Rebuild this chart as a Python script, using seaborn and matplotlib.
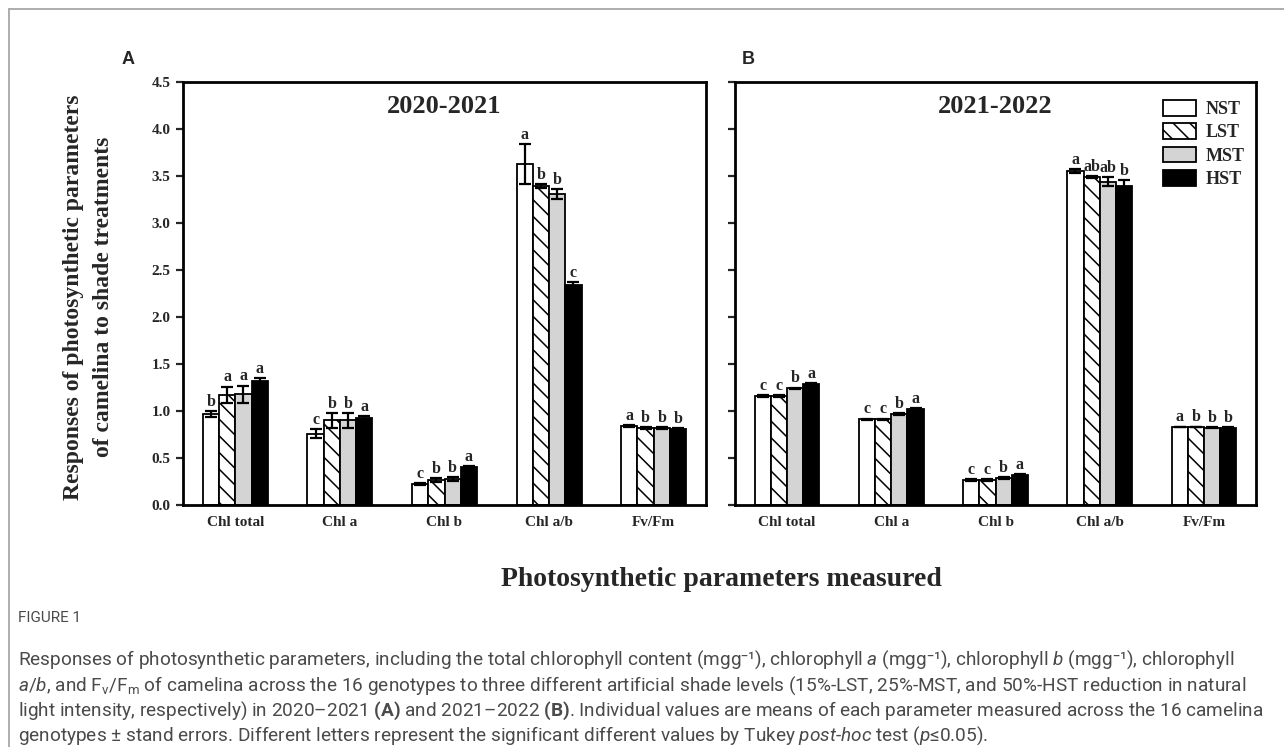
import numpy as np
import pandas as pd
import matplotlib
matplotlib.use("Agg")
import matplotlib.pyplot as plt
import matplotlib.patches as mpatches
from matplotlib.lines import Line2D
import seaborn as sns

# ---------------- data ----------------
params = ["Chl total", "Chl a", "Chl b", "Chl a/b", "Fv/Fm"]
treatments = ["NST", "LST", "MST", "HST"]

# Panel A: 2020-2021
a_nst = [0.97, 0.76, 0.22, 3.63, 0.84]
a_lst = [1.17, 0.90, 0.27, 3.39, 0.82]
a_mst = [1.18, 0.90, 0.28, 3.31, 0.82]
a_hst = [1.32, 0.93, 0.40, 2.34, 0.81]
a_nst_se = [0.03, 0.05, 0.01, 0.21, 0.01]
a_lst_se = [0.09, 0.08, 0.02, 0.02, 0.01]
a_mst_se = [0.09, 0.08, 0.02, 0.05, 0.01]
a_hst_se = [0.03, 0.02, 0.01, 0.03, 0.01]
a_nst_let = ["b", "c", "c", "a", "a"]
a_lst_let = ["a", "b", "b", "b", "b"]
a_mst_let = ["a", "b", "b", "b", "b"]
a_hst_let = ["a", "a", "a", "c", "b"]

# Panel B: 2021-2022
b_nst = [1.16, 0.91, 0.27, 3.55, 0.83]
b_lst = [1.16, 0.91, 0.27, 3.49, 0.83]
b_mst = [1.24, 0.97, 0.29, 3.44, 0.82]
b_hst = [1.29, 1.02, 0.32, 3.39, 0.82]
b_nst_se = [0.01, 0.01, 0.01, 0.02, 0.005]
b_lst_se = [0.01, 0.01, 0.01, 0.01, 0.005]
b_mst_se = [0.01, 0.01, 0.01, 0.05, 0.005]
b_hst_se = [0.01, 0.01, 0.01, 0.07, 0.005]
b_nst_let = ["c", "c", "c", "a", "a"]
b_lst_let = ["c", "c", "c", "ab", "b"]
b_mst_let = ["b", "b", "b", "ab", "b"]
b_hst_let = ["a", "a", "a", "b", "b"]

yticks = [0.0, 0.5, 1.0, 1.5, 2.0, 2.5, 3.0, 3.5, 4.0, 4.5]

# ---------------- style ----------------
sns.set_style("white")
plt.rcParams["font.family"] = ["Liberation Serif", "DejaVu Serif"]
plt.rcParams["hatch.linewidth"] = 1.1
plt.rcParams["mathtext.fontset"] = "custom"
plt.rcParams["mathtext.rm"] = "Roboto"
plt.rcParams["mathtext.it"] = "Roboto:italic"
plt.rcParams["mathtext.bf"] = "Roboto:bold"

colors = {"NST": "white", "LST": "white", "MST": "#d4d4d4", "HST": "black"}
hatches = {"NST": "", "LST": "\\\\", "MST": "", "HST": ""}

fig = plt.figure(figsize=(12.84, 7.47), dpi=100)
W, H = 1284, 747


def axrect(l, t, r, b):
    return [l / W, 1 - b / H, (r - l) / W, (b - t) / H]


axA = fig.add_axes(axrect(183, 82, 706, 505))
axB = fig.add_axes(axrect(735, 82, 1256, 505))


def draw(ax, vals, ses, lets, title, show_labels):
    rows = []
    for tr, v in zip(treatments, vals):
        for p, x in zip(params, v):
            rows.append({"param": p, "treatment": tr, "value": x})
    df = pd.DataFrame(rows)
    sns.barplot(data=df, x="param", y="value", hue="treatment",
                order=params, hue_order=treatments, palette=colors,
                saturation=1, edgecolor="black", linewidth=1.3,
                width=0.62, gap=0, errorbar=None, legend=False, ax=ax)
    for cont, tr, se, lt in zip(ax.containers, treatments, ses, lets):
        for j, bar in enumerate(cont):
            bar.set_hatch(hatches[tr])
            x = bar.get_x() + bar.get_width() / 2
            h = bar.get_height()
            ax.errorbar(x, h, yerr=se[j], ecolor="black", elinewidth=1.6,
                        capsize=4, capthick=1.6, fmt="none", zorder=3)
            ax.text(x, h + se[j] + 0.012, lt[j], ha="center", va="bottom",
                    fontsize=11.5, fontweight="bold", zorder=4)
    ax.set_xlim(-0.5, 4.5)
    ax.set_ylim(0, 4.5)
    ax.set_yticks(yticks)
    if show_labels:
        ax.set_yticklabels([f"{t:.1f}" for t in yticks], fontsize=11,
                           fontweight="bold")
    else:
        ax.set_yticklabels([])
    ax.set_xticks(range(len(params)))
    ax.set_xticklabels(params, fontsize=11, fontweight="bold")
    ax.tick_params(axis="y", direction="out", length=5, width=1.6,
                   left=True, pad=4)
    ax.tick_params(axis="x", length=0, pad=8)
    ax.set_xlabel("")
    ax.set_ylabel("")
    for s in ax.spines.values():
        s.set_visible(True)
        s.set_color("black")
        s.set_linewidth(2.0)
    ax.text(0.5, 0.942, title, transform=ax.transAxes, ha="center",
            va="center", fontsize=19, fontweight="bold")


draw(axA, [a_nst, a_lst, a_mst, a_hst],
     [a_nst_se, a_lst_se, a_mst_se, a_hst_se],
     [a_nst_let, a_lst_let, a_mst_let, a_hst_let], "2020-2021", True)
draw(axB, [b_nst, b_lst, b_mst, b_hst],
     [b_nst_se, b_lst_se, b_mst_se, b_hst_se],
     [b_nst_let, b_lst_let, b_mst_let, b_hst_let], "2021-2022", False)

handles = [mpatches.Patch(facecolor=colors[t], edgecolor="black",
                          hatch=hatches[t], linewidth=1.3, label=t)
           for t in treatments]
axB.legend(handles=handles, loc="upper left",
           bbox_to_anchor=((1163 - 735) / 521, (505 - 100) / 423),
           frameon=False, borderpad=0, borderaxespad=0,
           handlelength=1.85, handleheight=0.95,
           labelspacing=0.3, handletextpad=0.5,
           prop={"family": "Liberation Serif", "weight": "bold", "size": 13})

# panel letters
fig.text(128 / W, 1 - 60 / H, "A", family="Liberation Sans",
         fontweight="bold", fontsize=13, ha="center", va="center")
fig.text(748 / W, 1 - 60 / H, "B", family="Liberation Sans",
         fontweight="bold", fontsize=13, ha="center", va="center")

# axis labels
fig.text(88.5 / W, 1 - 297 / H,
         "Responses of photosynthetic parameters\nof camelina to shade treatments",
         rotation=90, ha="center", va="center", multialignment="center",
         fontsize=17, fontweight="bold", linespacing=1.62)
fig.text(721 / W, 1 - 580 / H, "Photosynthetic parameters measured",
         ha="center", va="center", fontsize=20, fontweight="bold")

# frame lines
fig.add_artist(Line2D([9 / W, 1], [1 - 9 / H, 1 - 9 / H], color="#a0a0a0",
                      linewidth=1.2, transform=fig.transFigure))
fig.add_artist(Line2D([9 / W, 9 / W], [0, 1 - 9 / H], color="#a0a0a0",
                      linewidth=1.2, transform=fig.transFigure))

# caption
cap_font = dict(family=["Roboto", "DejaVu Sans"], fontweight="normal",
                color="#4a4a4a", ha="left", va="center")
fig.text(18 / W, 1 - 618 / H, "FIGURE 1", fontsize=11, **cap_font)
cap_lines = [
    "Responses of photosynthetic parameters, including the total chlorophyll content (mgg\u207b\u00b9), chlorophyll $\\it{a}$ (mgg\u207b\u00b9), chlorophyll $\\it{b}$ (mgg\u207b\u00b9), chlorophyll",
    "$\\it{a/b}$, and F$_\\mathrm{v}$/F$_\\mathrm{m}$ of camelina across the 16 genotypes to three different artificial shade levels (15%-LST, 25%-MST, and 50%-HST reduction in natural",
    "light intensity, respectively) in 2020\u20132021 $\\mathbf{(A)}$ and 2021\u20132022 $\\mathbf{(B)}$. Individual values are means of each parameter measured across the 16 camelina",
    "genotypes \u00b1 stand errors. Different letters represent the significant different values by Tukey $\\it{post}$-$\\it{hoc}$ test ($\\it{p}$\u22640.05).",
]
for k, line in enumerate(cap_lines):
    fig.text(18 / W, 1 - (660 + 25.3 * k) / H, line, fontsize=13.7, **cap_font)

fig.savefig("out.png", dpi=100)
